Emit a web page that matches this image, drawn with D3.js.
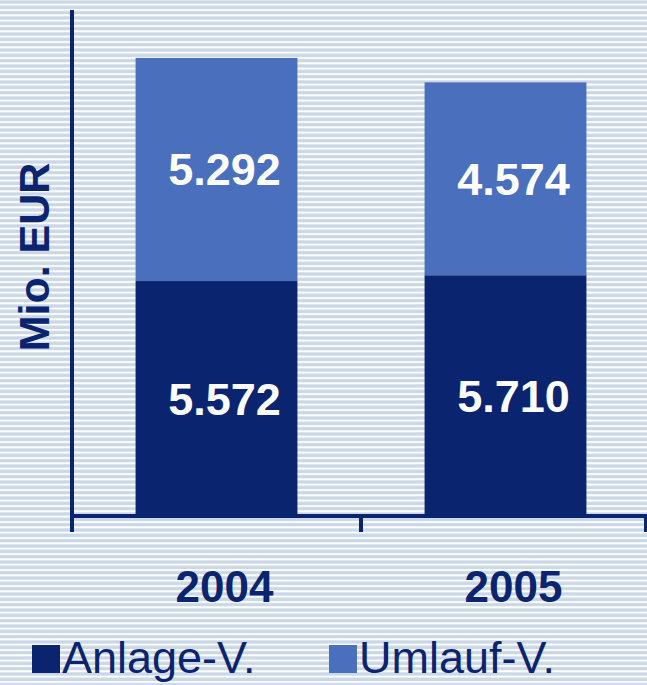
<!DOCTYPE html>
<html>
<head>
<meta charset="utf-8">
<script src="https://cdn.jsdelivr.net/npm/d3@7"></script>
<style>
  html, body { margin: 0; padding: 0; background: #fff; }
  svg { display: block; }
  text { font-family: "Liberation Sans", Arial, sans-serif; }
</style>
</head>
<body>
<div id="chart"></div>
<script>
// chart data
const years = ["2004", "2005"];
const anlage = [5572, 5710];
const umlauf = [5292, 4574];
const seriesNames = ["Anlage-V.", "Umlauf-V."];
const valueLabels = {
  anlage: ["5.572", "5.710"],
  umlauf: ["5.292", "4.574"]
};

const width = 647, height = 685;
const navy = "#0a2470", lightBlue = "#4a6fbd", stripe = "#c9d7e7";

const svg = d3.select("#chart").append("svg")
  .attr("width", width)
  .attr("height", height);

// striped background
const pat = svg.append("defs").append("pattern")
  .attr("id", "stripes")
  .attr("patternUnits", "userSpaceOnUse")
  .attr("width", 10)
  .attr("height", 16 / 3);
pat.append("rect").attr("width", 10).attr("height", 16 / 3).attr("fill", "#fff");
pat.append("rect").attr("y", 0.3).attr("width", 10).attr("height", 3.3).attr("fill", stripe);
svg.append("rect").attr("width", width).attr("height", height).attr("fill", "url(#stripes)");

// scales
const x = d3.scaleBand().domain(years).range([72, 650]);
const y = d3.scaleLinear().domain([0, 12000]).range([516, 10]);

const rows = years.map((yr, i) => ({ year: yr, anlage: anlage[i], umlauf: umlauf[i] }));
const stack = d3.stack().keys(["anlage", "umlauf"]);
const layers = stack(rows);
const colors = { anlage: navy, umlauf: lightBlue };

const barW = x.bandwidth() * 0.56;
const barOff = x.bandwidth() * 0.22;

layers.forEach(layer => {
  const g = svg.append("g");
  g.selectAll("rect").data(layer).enter().append("rect")
    .attr("x", d => x(d.data.year) + barOff)
    .attr("y", d => y(d[1]))
    .attr("width", barW)
    .attr("height", d => y(d[0]) - y(d[1]))
    .attr("fill", colors[layer.key]);
  g.selectAll("text").data(layer).enter().append("text")
    .attr("x", d => x(d.data.year) + x.bandwidth() / 2 + 8)
    .attr("y", d => (y(d[0]) + y(d[1])) / 2 + 16)
    .attr("text-anchor", "middle")
    .attr("fill", "#fff")
    .attr("font-weight", "bold")
    .attr("font-size", 45)
    .text((d, i) => valueLabels[layer.key][i]);
});

// axes
svg.append("line")
  .attr("x1", 72).attr("x2", 72).attr("y1", 10).attr("y2", 532)
  .attr("stroke", navy).attr("stroke-width", 4);
svg.append("line")
  .attr("x1", 72).attr("x2", width).attr("y1", y(0)).attr("y2", y(0))
  .attr("stroke", navy).attr("stroke-width", 4);
svg.selectAll(".tick").data(years).enter().append("line")
  .attr("class", "tick")
  .attr("x1", d => Math.min(x(d) + x.bandwidth(), 646))
  .attr("x2", d => Math.min(x(d) + x.bandwidth(), 646))
  .attr("y1", y(0)).attr("y2", 532)
  .attr("stroke", navy).attr("stroke-width", 4);

// category labels
svg.selectAll(".year").data(years).enter().append("text")
  .attr("class", "year")
  .attr("x", d => x(d) + x.bandwidth() / 2 + 8)
  .attr("y", 602)
  .attr("text-anchor", "middle")
  .attr("fill", navy)
  .attr("font-weight", "bold")
  .attr("font-size", 44)
  .text(d => d);

// y axis title
svg.append("text")
  .attr("transform", "translate(49,257) rotate(-90)")
  .attr("text-anchor", "middle")
  .attr("fill", navy)
  .attr("font-weight", "bold")
  .attr("font-size", 43)
  .text("Mio. EUR");

// legend
const legendX = [32, 329];
const legend = svg.selectAll(".legend").data(seriesNames).enter().append("g")
  .attr("class", "legend")
  .attr("transform", (d, i) => `translate(${legendX[i]},0)`);
legend.append("rect")
  .attr("x", 0).attr("y", 645).attr("width", 28).attr("height", 28)
  .attr("fill", (d, i) => i === 0 ? navy : lightBlue);
legend.append("text")
  .attr("x", 30).attr("y", 673)
  .attr("fill", navy)
  .attr("font-size", 45)
  .text(d => d);
</script>
</body>
</html>
